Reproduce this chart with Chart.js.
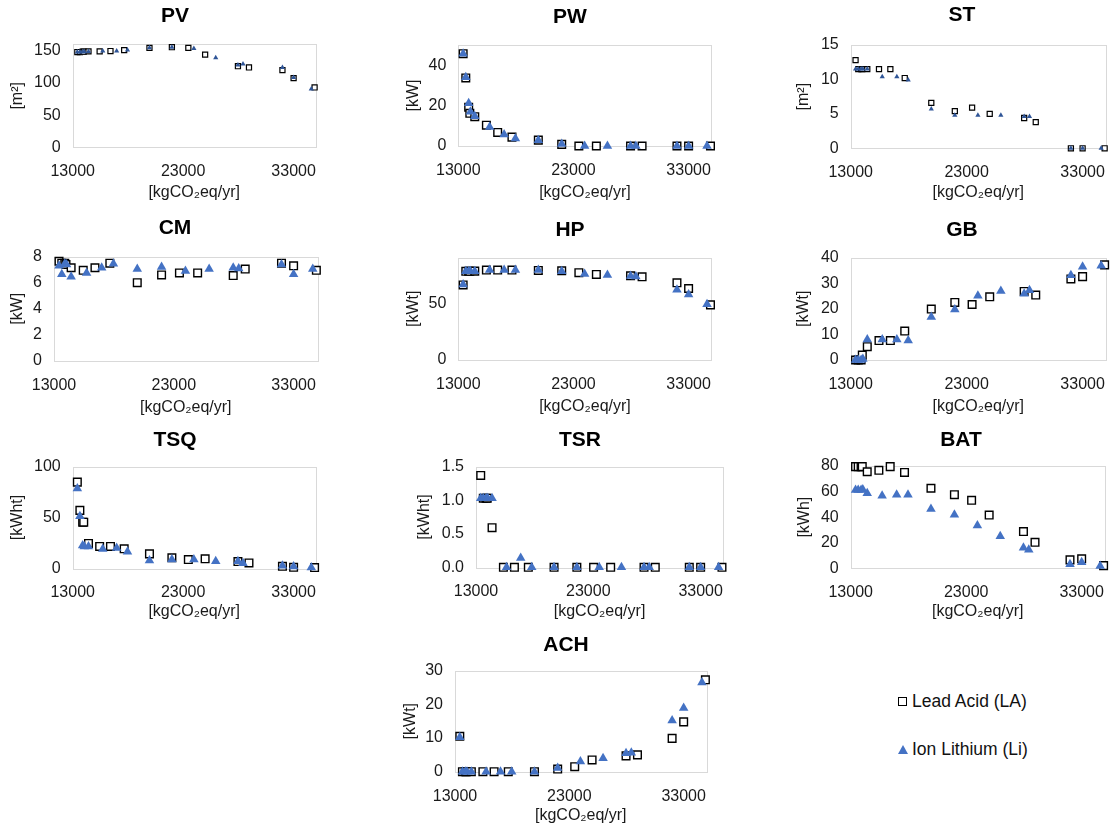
<!DOCTYPE html>
<html>
<head>
<meta charset="utf-8">
<script src="https://cdn.jsdelivr.net/npm/chart.js@4.4.1/dist/chart.umd.min.js"></script>
<style>
  body { margin: 0; background: #fff; width: 1112px; height: 829px; overflow: hidden; position: relative;
         font-family: "Liberation Sans", Arial, sans-serif; }
  canvas { position: absolute; }
  .leg { position: absolute; left: 898px; font-size: 17.5px; color: #111; line-height: 20px; white-space: nowrap; }
  .leg .sq { display: inline-block; width: 7px; height: 7px; border: 1.3px solid #000; background: #fff; margin-right: 5px; vertical-align: 1px; }
  .leg .tri { display: inline-block; width: 0; height: 0; border-left: 5.5px solid transparent; border-right: 5.5px solid transparent;
              border-bottom: 9px solid #4472C4; margin-right: 4px; vertical-align: 1px; }
</style>
</head>
<body>
<div class="leg" style="top:691px"><span class="sq"></span>Lead Acid (LA)</div>
<div class="leg" style="top:739px"><span class="tri"></span>Ion Lithium (Li)</div>
<script>
// x axis, shared by every panel
const xTicks = [13000, 23000, 33000];
const xMin = 13000, xMax = 35000;

// emissions of each solution [kgCO2eq/yr]
const xLA = [13420, 13650, 13900, 14000, 14430, 15440, 16420, 17660, 19950, 21980, 23470, 24990, 27960, 28960, 31990, 33000, 34900];
const xLi = [13420, 13650, 13900, 14050, 14430, 15720, 16980, 17960, 19950, 21980, 23970, 25950, 27960, 28420, 31990, 33000, 34600];

// sizes per component
const pvLA  = [148, 148, 148.5, 148.5, 149, 149, 149.5, 151, 154.5, 155.5, 154.5, 144, 126, 124, 120, 107.5, 93];
const pvLi  = [148, 148, 148.5, 148.5, 149, 149.5, 149.5, 151, 154.5, 155.5, 153.5, 139, 128, 129.5, 124, 108.5, 90.5];
const pwLA  = [45.7, 33.7, 19.2, 16.2, 14.5, 10.3, 6.7, 4.4, 2.9, 0.8, 0, 0, 0, 0, 0, 0, 0];
const pwLi  = [45.7, 34, 21.2, 17, 14.7, 9.4, 5.7, 3.7, 2.9, 1.0, 0, 0, 0, 0, 0, 0, 0];
const stLA  = [12.8, 11.5, 11.5, 11.5, 11.5, 11.5, 11.5, 10.2, 6.6, 5.4, 5.9, 5.0, 4.4, 3.8, 0, 0, 0];
const stLi  = [11.5, 11.5, 11.5, 11.5, 11.5, 10.4, 10.4, 9.9, 5.7, 4.8, 4.8, 4.8, 4.6, 4.6, 0, 0, 0];
const cmLA  = [7.65, 7.5, 7.5, 7.4, 7.15, 6.95, 7.15, 7.5, 6.0, 6.6, 6.75, 6.75, 6.55, 7.05, 7.5, 7.3, 6.95];
const cmLi  = [7.3, 6.65, 7.45, 7.4, 6.45, 6.75, 7.15, 7.45, 7.05, 7.2, 6.9, 7.05, 7.15, 7.1, 7.4, 6.65, 7.05];
const hpLA  = [66, 78, 78, 78, 78.2, 79.1, 79.1, 79.1, 78.8, 78.5, 76.8, 75.3, 74.1, 73.2, 67.9, 62.9, 48.5];
const hpLi  = [66.5, 78, 78, 78, 78, 79.1, 79.1, 79.1, 79.1, 78, 75.6, 74.7, 73.8, 73.5, 61.8, 57.6, 49.1];
const gbLA  = [0, 0, 0, 1.9, 5.2, 7.6, 7.6, 11.3, 19.9, 22.5, 21.7, 24.7, 26.8, 25.4, 31.7, 32.6, 37.2];
const gbLi  = [0, 0, 0, 0.4, 8, 8, 8, 7.6, 16.8, 19.7, 25.1, 27, 25.9, 27.3, 33.1, 36.5, 36.9];
const tsqLA = [84.8, 57, 45.4, 45.4, 24.5, 21.5, 21.5, 19.2, 14.2, 10.3, 8.6, 9.3, 6.6, 5.3, 2, 1, 0.7];
const tsqLi = [78.5, 51.3, 22.5, 21.5, 21.5, 18.9, 19.9, 16.2, 7.6, 8.6, 8.6, 7, 7, 5, 2.6, 1.7, 0.7];
const tsrLA = [1.37, 1.03, 1.03, 1.03, 0.59, 0, 0, 0, 0, 0, 0, 0, 0, 0, 0, 0, 0];
const tsrLi = [1.03, 1.03, 1.03, 1.03, 1.03, 0, 0.14, 0, 0, 0, 0, 0, 0, 0, 0, 0, 0];
const batLA = [79.5, 79.5, 79.5, 79.5, 75.5, 76.6, 79.5, 75, 62.6, 57.6, 53.2, 41.6, 28.7, 20.3, 6.6, 7.4, 2.1];
const batLi = [61.3, 61.3, 61.3, 61.6, 58.7, 56.8, 57.6, 57.6, 46.3, 41.8, 33.4, 25, 16, 14.5, 3.2, 4.7, 1.8];
const achLA = [10.5, 0, 0, 0, 0, 0, 0, 0, 0, 0.8, 1.5, 3.5, 4.7, 5, 9.9, 14.8, 27.3];
const achLi = [10.2, 0, 0, 0, 0, 0, 0, 0, 0, 1.1, 3, 4, 5.5, 5.6, 15.2, 18.9, 26.5];

// y tick labels per panel
const pvTicks  = [0, 50, 100, 150];
const pwTicks  = [0, 20, 40];
const stTicks  = [0, 5, 10, 15];
const cmTicks  = [0, 2, 4, 6, 8];
const hpTicks  = [0, 50];
const gbTicks  = [0, 10, 20, 30, 40];
const tsqTicks = [0, 50, 100];
const tsrTicks = [0, 0.5, 1.0, 1.5];
const batTicks = [0, 20, 40, 60, 80];
const achTicks = [0, 10, 20, 30];

const xTitle = "[kgCO₂eq/yr]";
const FONT = '"Liberation Sans", Arial, sans-serif';

// layout: plot box [l, t, r, b] in page pixels
const panels = [
  { name: "PV",  unit: "[m²]",   la: pvLA,  li: pvLi,  ticks: pvTicks,  max: 160, small: true,
    plot: [72.7, 44.3, 319.3, 147.3], yTitleX: 17.5, xTitleY: 193, titleX: 175, titleY: 16 },
  { name: "PW",  unit: "[kW]",   la: pwLA,  li: pwLi,  ticks: pwTicks,  max: 50,
    plot: [458.3, 45, 714.3, 146], yTitleX: 414, xTitleY: 193, titleX: 570, titleY: 17 },
  { name: "ST",  unit: "[m²]",   la: stLA,  li: stLi,  ticks: stTicks,  max: 15, small: true,
    plot: [850.7, 45, 1108.3, 148.3], yTitleX: 804, xTitleY: 193, titleX: 962, titleY: 15 },
  { name: "CM",  unit: "[kW]",   la: cmLA,  li: cmLi,  ticks: cmTicks,  max: 8,
    plot: [54, 256.7, 319.3, 360.7], yTitleX: 17.5, xTitleY: 408, titleX: 175, titleY: 228 },
  { name: "HP",  unit: "[kWt]",  la: hpLA,  li: hpLi,  ticks: hpTicks,  max: 90,
    plot: [458.3, 257.7, 714.3, 360], yTitleX: 414, xTitleY: 407, titleX: 570, titleY: 230 },
  { name: "GB",  unit: "[kWt]",  la: gbLA,  li: gbLi,  ticks: gbTicks,  max: 40,
    plot: [850.7, 257.7, 1108.3, 360], yTitleX: 804, xTitleY: 407, titleX: 962, titleY: 230 },
  { name: "TSQ", unit: "[kWht]", la: tsqLA, li: tsqLi, ticks: tsqTicks, max: 100,
    plot: [72.7, 466.7, 319.3, 568.3], yTitleX: 17.5, xTitleY: 612, titleX: 175, titleY: 440 },
  { name: "TSR", unit: "[kWht]", la: tsrLA, li: tsrLi, ticks: tsrTicks, max: 1.5, dec: 1,
    plot: [476, 466.7, 726.7, 567.3], yTitleX: 425, xTitleY: 612, titleX: 580, titleY: 440 },
  { name: "BAT", unit: "[kWh]",  la: batLA, li: batLi, ticks: batTicks, max: 80,
    plot: [850.7, 466, 1108, 568.3], yTitleX: 805, xTitleY: 612, titleX: 961, titleY: 440 },
  { name: "ACH", unit: "[kWt]",  la: achLA, li: achLi, ticks: achTicks, max: 30,
    plot: [455, 670.7, 710, 771.7], yTitleX: 410.7, xTitleY: 816, titleX: 566, titleY: 645 }
];

// panel title drawn centred over the whole panel (like Excel), not over the plot
const panelTitle = {
  id: "panelTitle",
  afterDraw(chart, args, opts) {
    const ctx = chart.ctx;
    ctx.save();
    ctx.font = "bold 21px " + FONT;
    ctx.fillStyle = "#000";
    ctx.textAlign = "center";
    ctx.textBaseline = "middle";
    ctx.fillText(opts.text, opts.x, opts.y);
    ctx.restore();
  }
};

// light grey frame round the plot area
const plotBox = {
  id: "plotBox",
  beforeDatasetsDraw(chart) {
    const a = chart.chartArea, ctx = chart.ctx;
    ctx.save();
    ctx.strokeStyle = "#D9D9D9";
    ctx.lineWidth = 1;
    ctx.strokeRect(Math.round(a.left) + 0.5, Math.round(a.top) + 0.5,
                   Math.round(a.right - a.left), Math.round(a.bottom - a.top));
    ctx.restore();
  }
};

const lineH = 16 * 1.2;

panels.forEach(p => {
  const [l, t, r, b] = p.plot;
  const axisLeft = p.yTitleX - lineH / 2;
  const axisBottom = p.xTitleY + lineH / 2;
  const cx = Math.floor(axisLeft - 4);
  const cy = Math.max(0, Math.floor(p.titleY - 16));
  const cr = Math.ceil(r + 12);
  const cb = Math.ceil(axisBottom + 3);

  const canvas = document.createElement("canvas");
  canvas.width = cr - cx;
  canvas.height = cb - cy;
  canvas.style.left = cx + "px";
  canvas.style.top = cy + "px";
  document.body.appendChild(canvas);

  const triColor = p.small ? "#2F5597" : "#4472C4";

  new Chart(canvas, {
    type: "scatter",
    data: {
      datasets: [
        {
          label: "Ion Lithium (Li)",
          data: xLi.map((x, i) => ({ x: x, y: p.li[i] })),
          pointStyle: "triangle",
          pointRadius: p.small ? 3 : 5.5,
          backgroundColor: triColor,
          borderColor: triColor,
          borderWidth: 0,
          clip: false,
          order: 0
        },
        {
          label: "Lead Acid (LA)",
          data: xLA.map((x, i) => ({ x: x, y: p.la[i] })),
          pointStyle: "rect",
          pointRadius: p.small ? 3.6 : 5.4,
          backgroundColor: "#fff",
          borderColor: "#000",
          borderWidth: p.small ? 1.2 : 1.4,
          clip: false,
          order: 1
        }
      ]
    },
    options: {
      responsive: false,
      animation: false,
      events: [],
      layout: { padding: { left: axisLeft - cx, top: t - cy, right: cr - r, bottom: cb - axisBottom } },
      plugins: {
        legend: { display: false },
        tooltip: { enabled: false },
        panelTitle: { text: p.name, x: p.titleX - cx, y: p.titleY - cy }
      },
      scales: {
        x: {
          type: "linear",
          min: xMin,
          max: xMax,
          grid: { display: false, drawTicks: false },
          border: { display: false },
          afterBuildTicks: s => { s.ticks = xTicks.map(v => ({ value: v })); },
          afterFit: s => { s.height = axisBottom - b; },
          ticks: {
            autoSkip: false, maxRotation: 0, padding: 15,
            color: "#1a1a1a", font: { family: FONT, size: 16 },
            callback: v => String(v)
          },
          title: {
            display: true, text: xTitle, padding: 0, color: "#1a1a1a",
            font: { family: FONT, size: 16, lineHeight: 1.2 }
          }
        },
        y: {
          min: 0,
          max: p.max,
          grid: { display: false, drawTicks: false },
          border: { display: false },
          afterBuildTicks: s => { s.ticks = p.ticks.map(v => ({ value: v })); },
          afterFit: s => { s.width = l - axisLeft; },
          ticks: {
            padding: 12, color: "#1a1a1a", font: { family: FONT, size: 16 },
            callback: v => p.dec ? v.toFixed(p.dec) : String(v)
          },
          title: {
            display: true, text: p.unit, padding: 0, color: "#1a1a1a",
            font: { family: FONT, size: 16, lineHeight: 1.2 }
          }
        }
      }
    },
    plugins: [panelTitle, plotBox]
  });
});
</script>
</body>
</html>
